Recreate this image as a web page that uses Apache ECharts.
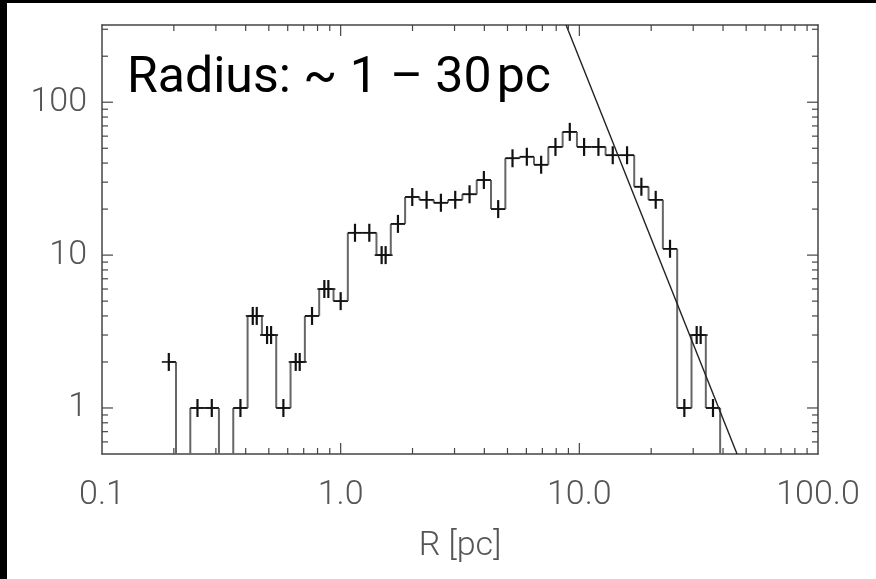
<!DOCTYPE html>
<html><head><meta charset="utf-8">
<script src="https://cdn.jsdelivr.net/npm/echarts@6/dist/echarts.min.js"></script>
<style>html,body{margin:0;padding:0;background:#fff}#c{width:876px;height:579px}</style>
</head><body><div id="c"></div>
<script>
// Histogram bin edges (pc), log-spaced
const binEdges = [0.1778,0.2042,0.2344,0.2692,0.3090,0.3548,0.4074,0.4677,0.5370,0.6166,
  0.7079,0.8128,0.9333,1.0715,1.2303,1.4125,1.6218,1.8621,2.1380,2.4547,
  2.8184,3.2359,3.7154,4.2658,4.8978,5.6234,6.4565,7.4131,8.5114,9.7724,
  11.220,12.882,14.791,16.982,19.498,22.387,25.704,29.512,33.884,38.905];
// Counts per bin
const counts = [2,0,1,1,0,1,4,3,1,2,4,6,5,14,14,10,16,24,23,22,23,25,31,20,43,44,39,51,64,51,51,45,45,28,23,11,1,3,1];
// "+" symbol positions
const crossR = [0.1905,0.2512,0.2884,0.3802,0.4282,0.4450,0.4916,0.5110,0.5754,0.6481,0.6736,0.7586,0.8543,0.8880,1.0000,
  1.1482,1.3183,1.4847,1.5431,1.7378,1.9953,2.2909,2.6303,3.0200,3.4674,3.9811,4.5709,5.2481,6.0256,6.9183,7.9433,
  9.1201,10.471,12.023,13.804,15.849,18.197,20.893,23.988,27.542,31.02,32.24,36.308];
const crossN = [2,1,1,1,4,4,3,3,1,2,2,4,6,6,5,14,14,10,10,16,24,23,22,23,25,31,20,43,44,39,51,64,51,51,45,45,28,23,11,1,3,3,1];
// Power-law fit line end points
const fitR = [8.8, 45.8];
const fitN = [320, 0.5];
// Axis ranges and ticks
const X_MIN = 0.1, X_MAX = 100, Y_MIN = 0.5, Y_MAX = 320;
const xMajorTicks = [1, 10];
const xMinorTicks = [0.2,0.3,0.4,0.5,0.6,0.7,0.8,0.9,2,3,4,5,6,7,8,9,20,30,40,50,60,70,80,90];
const yMajorTicks = [1, 10, 100];
const yMinorTicks = [0.6,0.7,0.8,0.9,2,3,4,5,6,7,8,9,20,30,40,50,60,70,80,90,200,300];
const xTickLabels = {'0.1':'0.1','1':'1.0','10':'10.0','100':'100.0'};
const yTickLabels = {'1':'1','10':'10','100':'100'};

const TXT = '#555';
const AX = '#444';
const labelFont = {fontFamily:'Roboto', fontWeight:300, fontSize:34, color:TXT};

function isPow10(v){const l=Math.log10(v);return Math.abs(l-Math.round(l))<1e-6;}
function key(v){return String(Math.round(Math.pow(10,Math.round(Math.log10(v)))*1000)/1000);}

const tickData = [];
xMajorTicks.forEach(v=>tickData.push([v,1,0]));
xMinorTicks.forEach(v=>tickData.push([v,1,1]));
yMajorTicks.forEach(v=>tickData.push([1,v,2]));
yMinorTicks.forEach(v=>tickData.push([1,v,3]));

const histData = counts.map((c,i)=>[Math.sqrt(binEdges[i]*binEdges[i+1]), Math.max(c,Y_MIN), i]);
const crossData = crossR.map((r,i)=>[r, crossN[i]]);

const lineStyleH = {stroke:'#2a2a2a', lineWidth:1.6};
const lineStyleV = {stroke:'#666', lineWidth:2};

const baseX = {type:'log', logBase:10, min:X_MIN, max:X_MAX, splitLine:{show:false},
  axisTick:{show:false}, minorTick:{show:false},
  axisLine:{show:true, onZero:false, lineStyle:{color:AX, width:1.5}}};
const baseY = {type:'log', logBase:10, min:Y_MIN, max:Y_MAX, splitLine:{show:false},
  axisTick:{show:false}, minorTick:{show:false},
  axisLine:{show:true, onZero:false, lineStyle:{color:AX, width:1.5}}};

const option = {
  animation:false,
  backgroundColor:'#fff',
  title:{text:'Radius: ~ 1 \u2013 30\u200apc', left:122, top:49,
    textStyle:{fontFamily:'Roboto', fontWeight:400, fontSize:50, color:'#000'}},
  graphic:[
    {type:'rect', left:0, top:0, shape:{width:7, height:579}, style:{fill:'#000'}, z:100},
    {type:'rect', left:0, top:0, shape:{width:876, height:3}, style:{fill:'#000'}, z:100}
  ],
  grid:{left:102, right:58, top:25, bottom:125, containLabel:false},
  xAxis:[
    Object.assign({}, baseX, {position:'bottom',
      name:'R [pc]', nameLocation:'middle', nameGap:75,
      nameTextStyle:labelFont,
      axisLabel:Object.assign({margin:24, showMinLabel:true, showMaxLabel:true,
        formatter:v=>isPow10(v)?(xTickLabels[key(v)]||''):''}, labelFont)}),
    Object.assign({}, baseX, {position:'top', axisLabel:{show:false}})
  ],
  yAxis:[
    Object.assign({}, baseY, {position:'left',
      axisLabel:Object.assign({margin:15, showMinLabel:true, showMaxLabel:true,
        formatter:v=>isPow10(v)?(yTickLabels[key(v)]||''):''}, labelFont)}),
    Object.assign({}, baseY, {position:'right', axisLabel:{show:false}})
  ],
  series:[
    { // histogram steps
      type:'custom', xAxisIndex:0, yAxisIndex:0, data:histData, z:3,
      renderItem:function(params, api){
        const i = api.value(2);
        const c = Math.max(counts[i], Y_MIN);
        const prev = i>0 ? Math.max(counts[i-1], Y_MIN) : null;
        const left = i>0 ? binEdges[i] : Math.sqrt(binEdges[0]*binEdges[1]);
        const pL = api.coord([left, c]);
        const pR = api.coord([binEdges[i+1], c]);
        const children = [];
        if (prev !== null) {
          const pp = api.coord([binEdges[i], prev]);
          children.push({type:'line', shape:{x1:pp[0],y1:pp[1],x2:pL[0],y2:pL[1]}, style:lineStyleV});
        }
        if (i === counts.length-1) {
          const pb = api.coord([binEdges[i+1], Y_MIN]);
          children.push({type:'line', shape:{x1:pR[0],y1:pR[1],x2:pb[0],y2:pb[1]}, style:lineStyleV});
        }
        if (counts[i] > 0) children.push({type:'line', shape:{x1:pL[0],y1:pL[1],x2:pR[0],y2:pR[1]}, style:lineStyleH});
        return {type:'group', children:children};
      }
    },
    { // plus symbols
      type:'custom', xAxisIndex:0, yAxisIndex:0, data:crossData, z:4,
      renderItem:function(params, api){
        const p = api.coord([api.value(0), api.value(1)]);
        return {type:'group', children:[
          {type:'line', shape:{x1:p[0]-7,y1:p[1],x2:p[0]+7,y2:p[1]}, style:{stroke:'#111', lineWidth:1.6}},
          {type:'line', shape:{x1:p[0],y1:p[1]-9,x2:p[0],y2:p[1]+9}, style:{stroke:'#111', lineWidth:2.2}}
        ]};
      }
    },
    { // fit line
      type:'line', xAxisIndex:0, yAxisIndex:0, data:fitR.map((r,i)=>[r,fitN[i]]), z:5,
      symbol:'none', clip:true, lineStyle:{color:'#222', width:1.4}
    },
    { // axis ticks on all four sides
      type:'custom', xAxisIndex:0, yAxisIndex:0, data:tickData, z:6, silent:true,
      renderItem:function(params, api){
        const cs = params.coordSys;
        const kind = api.value(2);
        const len = (kind===0||kind===2) ? 11 : 6;
        const st = {stroke:AX, lineWidth:1.2};
        if (kind<2) {
          const x = api.coord([api.value(0), Y_MIN])[0];
          return {type:'group', children:[
            {type:'line', shape:{x1:x,y1:cs.y+cs.height,x2:x,y2:cs.y+cs.height-len}, style:st},
            {type:'line', shape:{x1:x,y1:cs.y,x2:x,y2:cs.y+len}, style:st}
          ]};
        } else {
          const y = api.coord([X_MIN, api.value(1)])[1];
          return {type:'group', children:[
            {type:'line', shape:{x1:cs.x,y1:y,x2:cs.x+len,y2:y}, style:st},
            {type:'line', shape:{x1:cs.x+cs.width,y1:y,x2:cs.x+cs.width-len,y2:y}, style:st}
          ]};
        }
      }
    }
  ]
};
const chart = echarts.init(document.getElementById('c'), null, {renderer:'canvas'});
chart.setOption(option);
</script></body></html>
